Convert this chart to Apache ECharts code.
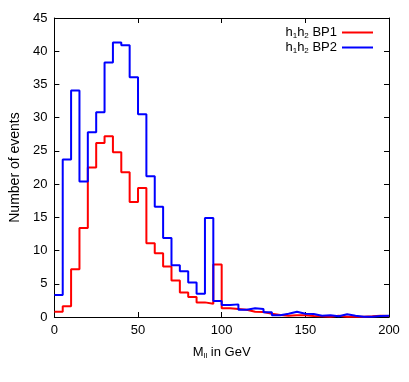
<!DOCTYPE html>
<html>
<head>
<meta charset="utf-8">
<script src="https://cdn.jsdelivr.net/npm/echarts@6/dist/echarts.min.js"></script>
<style>
html, body { margin: 0; padding: 0; background: #fff; }
#chart { width: 409px; height: 382px; }
</style>
</head>
<body>
<div id="chart"></div>
<script>
// histogram bins: left edges, width 5 GeV
var binWidth = 5;
var binEdges = [0, 5, 10, 15, 20, 25, 30, 35, 40, 45, 50, 55, 60, 65, 70, 75, 80, 85, 90, 95,
	100, 105, 110, 115, 120, 125, 130, 135, 140, 145, 150, 155, 160, 165, 170, 175, 180, 185, 190, 195];

// BP1 (red)
var eventsBP1 = [0.8, 1.6, 7.2, 13.4, 22.5, 26.2, 27.2, 24.8, 21.8, 17.3,
	19.4, 11.1, 9.6, 7.6, 5.5, 3.7, 3.0, 2.2, 2.0, 7.9,
	1.3, 1.2, 1.1, 0.8, 0.75, 0.5, 0.3, 0.2, 0.25, 0.25,
	0.15, 0.1, 0.05, 0.2, 0.05, 0.05, 0.05, 0.1, 0.2, 0.15];

// BP2 (blue)
var eventsBP2 = [3.3, 23.7, 34.1, 20.4, 27.8, 30.8, 38.3, 41.3, 40.9, 36.1,
	30.5, 21.2, 16.6, 11.9, 7.8, 6.9, 5.2, 3.5, 14.9, 2.4,
	1.8, 1.9, 1.1, 1.3, 1.2, 0.7, 0.25, 0.5, 0.8, 0.5,
	0.45, 0.2, 0.25, 0.1, 0.4, 0.2, 0.05, 0.05, 0.15, 0.2];

var xTicks = { min: 0, max: 200, interval: 50 };
var yTicks = { min: 0, max: 45, interval: 5 };

var fontName = 'Liberation Sans';

// build step points: each bin left edge + a closing point at the last right edge
function histPoints(vals) {
	var pts = [];
	for (var i = 0; i < binEdges.length; i++) {
		pts.push([binEdges[i], vals[i]]);
	}
	pts.push([binEdges[binEdges.length - 1] + binWidth, vals[vals.length - 1]]);
	return pts;
}

var subRich = {
	n: { fontSize: 13, fontFamily: fontName, color: '#000' },
	s: { fontSize: 8, fontFamily: fontName, color: '#000', padding: [7, 0, 0, 0] }
};

var myChart = echarts.init(document.getElementById('chart'));

var axisCommon = {
	axisLine: { show: true, onZero: false, lineStyle: { color: '#000', width: 1 } },
	axisTick: { show: true, inside: true, length: 5, lineStyle: { color: '#000' } },
	splitLine: { show: false }
};

var option = {
	animation: false,
	backgroundColor: '#fff',
	grid: { left: 49, right: 20, top: 18, bottom: 65 },
	legend: {
		orient: 'vertical',
		right: 31,
		top: 21,
		align: 'right',
		icon: 'rect',
		itemWidth: 31,
		itemHeight: 2,
		itemGap: 1,
		data: ['BP1', 'BP2'],
		formatter: function(name) {
			return '{n|h}{s|1}{n|h}{s|2}{n| ' + name + '}';
		},
		textStyle: { rich: subRich }
	},
	xAxis: [
		Object.assign({
			type: 'value',
			position: 'bottom',
			min: xTicks.min, max: xTicks.max, interval: xTicks.interval,
			name: '{n|M}{s|ll}{n| in GeV}',
			nameLocation: 'middle',
			nameGap: 28,
			nameTextStyle: { rich: subRich },
			axisLabel: { color: '#000', fontSize: 13, fontFamily: fontName, margin: 7 }
		}, axisCommon),
		Object.assign({
			type: 'value',
			position: 'top',
			min: xTicks.min, max: xTicks.max, interval: xTicks.interval,
			axisLabel: { show: false }
		}, axisCommon)
	],
	yAxis: [
		Object.assign({
			type: 'value',
			position: 'left',
			min: yTicks.min, max: yTicks.max, interval: yTicks.interval,
			name: 'Number of events',
			nameLocation: 'middle',
			nameGap: 28,
			nameTextStyle: { color: '#000', fontSize: 14, fontFamily: fontName },
			axisLabel: { color: '#000', fontSize: 13, fontFamily: fontName, margin: 7 }
		}, axisCommon),
		Object.assign({
			type: 'value',
			position: 'right',
			min: yTicks.min, max: yTicks.max, interval: yTicks.interval,
			axisLabel: { show: false }
		}, axisCommon)
	],
	series: [
		{
			name: 'BP1',
			type: 'line',
			step: 'end',
			symbol: 'none',
			color: '#ff0000',
			lineStyle: { color: '#ff0000', width: 2 },
			data: histPoints(eventsBP1)
		},
		{
			name: 'BP2',
			type: 'line',
			step: 'end',
			symbol: 'none',
			color: '#0000ff',
			lineStyle: { color: '#0000ff', width: 2 },
			data: histPoints(eventsBP2)
		}
	]
};

myChart.setOption(option);
</script>
</body>
</html>
